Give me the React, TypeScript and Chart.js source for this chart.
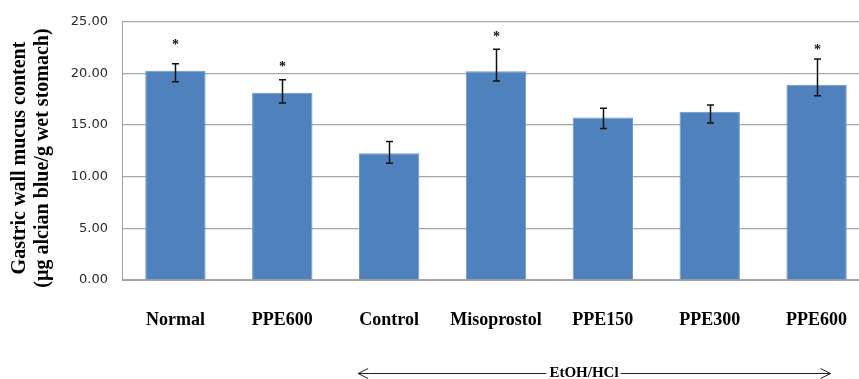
import React, { useEffect, useRef } from "react";
import { Chart, registerables } from "chart.js";

Chart.register(...registerables);

const categories = ["Normal", "PPE600", "Control", "Misoprostol", "PPE150", "PPE300", "PPE600"];
const mucusValues = [20.26, 18.14, 12.28, 20.22, 15.74, 16.28, 18.91];
const errorHigh = [20.93, 19.4, 13.4, 22.34, 16.63, 16.95, 21.4];
const errorLow = [19.2, 17.14, 11.3, 19.26, 14.68, 15.19, 17.84];
const asteriskAt: (number | null)[] = [22.98, 20.87, null, 23.78, null, null, 22.5];
const yTitleLines = ["Gastric wall mucus content", "(µg alcian blue/g wet stomach)"];
const groupLabel = "EtOH/HCl";

const SERIF = "'Liberation Serif', 'Times New Roman', serif";

const overlayPlugin = {
  id: "overlay",
  afterDatasetsDraw(chart: any) {
    const ctx = chart.ctx as CanvasRenderingContext2D;
    const meta = chart.getDatasetMeta(0);
    const ys = chart.scales.y;
    ctx.save();
    // error bars
    ctx.strokeStyle = "#111";
    ctx.lineWidth = 1.5;
    meta.data.forEach((bar: any, i: number) => {
      const x = Math.round(bar.x) + 0.5;
      const yh = ys.getPixelForValue(errorHigh[i]);
      const yl = ys.getPixelForValue(errorLow[i]);
      ctx.beginPath();
      ctx.moveTo(x, yh);
      ctx.lineTo(x, yl);
      ctx.moveTo(x - 3.5, yh);
      ctx.lineTo(x + 3.5, yh);
      ctx.moveTo(x - 3.5, yl);
      ctx.lineTo(x + 3.5, yl);
      ctx.stroke();
      const a = asteriskAt[i];
      if (a !== null) {
        ctx.fillStyle = "#111";
        ctx.font = `bold 14px ${SERIF}`;
        ctx.textAlign = "center";
        ctx.textBaseline = "middle";
        ctx.fillText("*", x, ys.getPixelForValue(a) + 3);
      }
    });
    // x labels
    ctx.fillStyle = "#000";
    ctx.font = `bold 18px ${SERIF}`;
    ctx.textAlign = "center";
    ctx.textBaseline = "middle";
    meta.data.forEach((bar: any, i: number) => {
      ctx.fillText(categories[i], bar.x, 320);
    });
    // y title
    ctx.save();
    ctx.translate(0, 158);
    ctx.rotate(-Math.PI / 2);
    ctx.font = `bold 20px ${SERIF}`;
    ctx.fillText(yTitleLines[0], 0, 20);
    ctx.fillText(yTitleLines[1], 0, 43);
    ctx.restore();
    // group arrow
    const x0 = meta.data[2].x - 31;
    const x1 = meta.data[6].x + 14;
    const y = 373.5;
    ctx.font = `bold 15px ${SERIF}`;
    const tw = ctx.measureText(groupLabel).width;
    const tc = 584;
    ctx.fillText(groupLabel, tc, y);
    ctx.strokeStyle = "#222";
    ctx.lineWidth = 1;
    ctx.beginPath();
    ctx.moveTo(x0, y);
    ctx.lineTo(tc - tw / 2 - 3, y);
    ctx.moveTo(tc + tw / 2 + 2, y);
    ctx.lineTo(x1, y);
    ctx.moveTo(x0 + 10, y - 5);
    ctx.lineTo(x0, y);
    ctx.lineTo(x0 + 10, y + 5);
    ctx.moveTo(x1 - 10, y - 5);
    ctx.lineTo(x1, y);
    ctx.lineTo(x1 - 10, y + 5);
    ctx.stroke();
    ctx.restore();
  },
};

export default function App() {
  const ref = useRef<HTMLCanvasElement>(null);
  useEffect(() => {
    if (!ref.current) return;
    const chart = new Chart(ref.current, {
      type: "bar",
      data: {
        labels: categories,
        datasets: [
          {
            data: mucusValues,
            backgroundColor: "#4f81bd",
            borderColor: "#6a97cc",
            borderWidth: 1,
            categoryPercentage: 1,
            barPercentage: 0.565,
          },
        ],
      },
      plugins: [overlayPlugin],
      options: {
        animation: false,
        responsive: false,
        devicePixelRatio: 1,
        layout: { padding: { top: 20, right: 10, left: 0, bottom: 0 } },
        plugins: { legend: { display: false }, tooltip: { enabled: false } },
        scales: {
          x: {
            grid: { display: false, drawTicks: false },
            border: { display: true, color: "#a0a0a0", width: 1 },
            ticks: { display: false },
            afterFit: (s: any) => {
              s.height = 99;
            },
          },
          y: {
            min: 0,
            max: 25,
            grid: { color: "#a6a6a6", lineWidth: 1.2, drawTicks: false },
            border: { display: true, color: "#a0a0a0", width: 1 },
            ticks: {
              stepSize: 5,
              padding: 14,
              color: "#2a2a2a",
              font: { family: "'DejaVu Sans', sans-serif", size: 13 },
              callback: (v: any) => Number(v).toFixed(2),
            },
            afterFit: (s: any) => {
              s.width = 122;
            },
          },
        },
      },
    } as any);
    return () => chart.destroy();
  }, []);
  return (
    <div style={{ position: "fixed", left: 0, top: 0, width: 859, height: 379, overflow: "hidden", background: "#fff" }}>
      <canvas ref={ref} width={880} height={379} style={{ display: "block" }} />
    </div>
  );
}
